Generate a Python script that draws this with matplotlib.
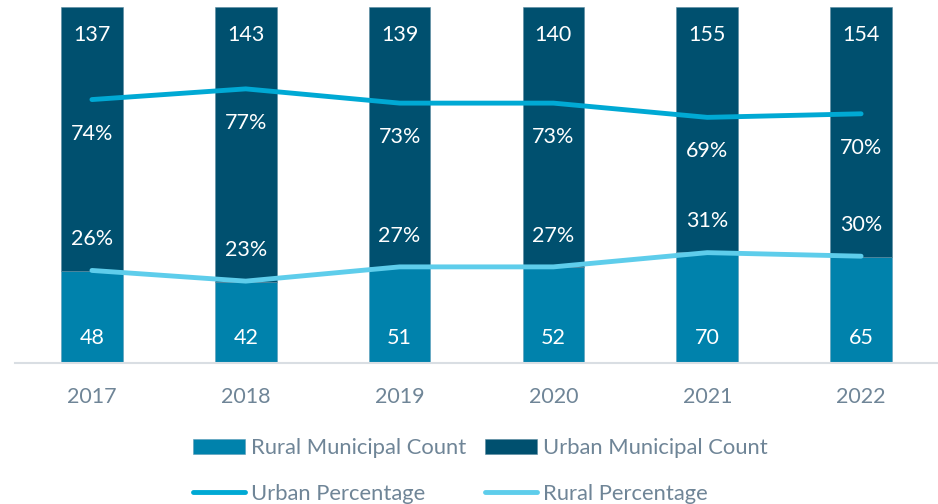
import matplotlib
matplotlib.use("Agg")
import matplotlib.pyplot as plt
import numpy as np

years = ["2017", "2018", "2019", "2020", "2021", "2022"]
rural_count = [48, 42, 51, 52, 70, 65]
urban_count = [137, 143, 139, 140, 155, 154]
urban_pct = [74, 77, 73, 73, 69, 70]
rural_pct = [26, 23, 27, 27, 31, 30]

c_rural = "#0082AC"
c_urban = "#00506F"
c_uline = "#00A9D4"
c_rline = "#5ECDEB"
c_text = "#6F8597"

plt.rcParams['font.family'] = ['Lato', 'DejaVu Sans']

fig = plt.figure(figsize=(9.38, 5.04), dpi=100)
ax = fig.add_axes([15/938, (504-363)/504, 923/938, 356/504])

x = np.arange(len(years))
rc = np.array(rural_count, float)
uc = np.array(urban_count, float)
tot = rc + uc
r_share = rc / tot * 100
u_share = uc / tot * 100

w = 0.4
b1 = ax.bar(x, r_share, w, color=c_rural, edgecolor="#5A9CB8", linewidth=0.4,
            label="Rural Municipal Count", zorder=2)
b2 = ax.bar(x, u_share, w, bottom=r_share, color=c_urban, edgecolor="#5A8AA0",
            linewidth=0.4, label="Urban Municipal Count", zorder=2)
l1, = ax.plot(x, urban_pct, color=c_uline, lw=3.5, solid_capstyle="round",
              label="Urban Percentage", zorder=3)
l2, = ax.plot(x, rural_pct, color=c_rline, lw=3.5, solid_capstyle="round",
              label="Rural Percentage", zorder=3)

fs = 15.5
for i in range(len(years)):
    ax.annotate(str(urban_count[i]), (x[i], 100), xytext=(0, -20), textcoords="offset points",
                ha="center", va="center", color="white", fontsize=fs)
    ax.annotate(str(rural_count[i]), (x[i], 0), xytext=(0, 18), textcoords="offset points",
                ha="center", va="center", color="white", fontsize=fs)
    ax.annotate(f"{urban_pct[i]}%", (x[i], urban_pct[i]), xytext=(0, -24.5), textcoords="offset points",
                ha="center", va="center", color="white", fontsize=fs)
    ax.annotate(f"{rural_pct[i]}%", (x[i], rural_pct[i]), xytext=(0, 22.5), textcoords="offset points",
                ha="center", va="center", color="white", fontsize=fs)

ax.set_xlim(-0.5, len(years) - 0.5)
ax.set_ylim(0, 100)
ax.set_xticks(x)
ax.set_xticklabels(years, fontsize=fs, color=c_text)
ax.tick_params(axis="x", length=0, pad=17)
ax.set_yticks([])
for s in ["top", "right", "left"]:
    ax.spines[s].set_visible(False)
ax.spines["bottom"].set_color("#D9DEE3")
ax.spines["bottom"].set_linewidth(1.5)

leg = fig.legend([b1, l1, b2, l2],
                 ["Rural Municipal Count", "Urban Percentage",
                  "Urban Municipal Count", "Rural Percentage"],
                 ncol=2, loc="center", bbox_to_anchor=(480.5/938, 1 - 471/504),
                 frameon=False, fontsize=15.8, labelcolor=c_text,
                 handlelength=2.37, handletextpad=0.27, columnspacing=0.87,
                 labelspacing=1.15, handleheight=0.7)

fig.savefig("out.png", dpi=100)
